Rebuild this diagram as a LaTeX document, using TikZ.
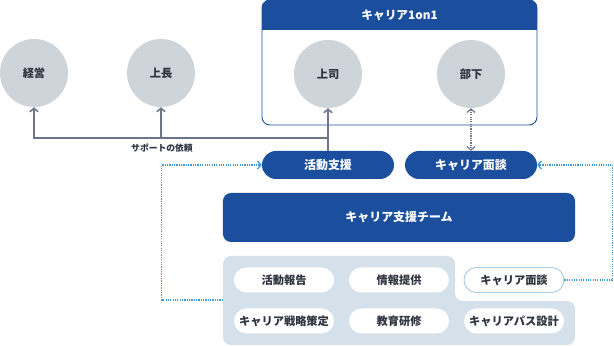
\documentclass[tikz,border=0pt]{standalone}
\usepackage{fontspec}
\setmainfont{Noto Sans CJK JP}
\usetikzlibrary{arrows.meta}

\definecolor{blueD}{HTML}{1B4F9E}
\definecolor{panelL}{HTML}{D4E1EA}
\definecolor{circG}{HTML}{CDD4DA}
\definecolor{lineG}{HTML}{6C7686}
\definecolor{dotB}{HTML}{3D9BDA}
\definecolor{txtD}{HTML}{2F3540}
\definecolor{rimB}{HTML}{A9CBE2}

\begin{document}
\begin{tikzpicture}[x=0.03cm, y=-0.03cm, >={Straight Barb[length=3pt,width=7pt]},
    person/.style={circle, fill=circG, minimum size=2.04cm, inner sep=0pt,
        text=txtD, font=\bfseries\fontsize{9.6}{11}\selectfont},
    pill/.style={rectangle, rounded corners=0.42cm, fill=blueD, text=white,
        minimum width=3.96cm, minimum height=0.84cm, font=\bfseries\fontsize{10.2}{12}\selectfont},
    task/.style={rectangle, rounded corners=0.375cm, fill=white, text=txtD,
        minimum width=3cm, minimum height=0.75cm, font=\bfseries\fontsize{9.6}{11}\selectfont},
    grayarrow/.style={draw=lineG, line width=1.3pt, ->},
    dotarrow/.style={draw=dotB, line width=1pt, densely dotted, ->}]
    \useasboundingbox (0,0) rectangle (614,346);

    % career 1on1 frame
    \draw[blueD, fill=white, line width=0.8pt, rounded corners=0.24cm] (262,0) rectangle (537,125);
    \fill[blueD, rounded corners=0.24cm] (262,0) rectangle (537,30);
    \fill[blueD] (262,20) rectangle (537,30);
    \node[text=white, font=\bfseries\fontsize{10}{12}\selectfont] (title) at (399.5,15) {キャリア1on1};

    \node[person] (keiei) at (34,73) {経営};
    \node[person] (jocho) at (161,73) {上長};
    \node[person] (joshi) at (328,74) {上司};
    \node[person] (buka) at (471,74) {部下};

    \node[pill] (shien) at (328,165) {活動支援};
    \node[pill] (mendan) at (471,165) {キャリア面談};

    \node[rectangle, rounded corners=0.24cm, fill=blueD, text=white, minimum width=10.56cm,
        minimum height=1.47cm, font=\bfseries\fontsize{10.2}{12}\selectfont] (team) at (399,217.5) {キャリア支援チーム};

    % panel with notch
    \fill[panelL, rounded corners=0.24cm] (223,256) -- (455,256) -- (455,301) -- (575,301)
        -- (575,345) -- (223,345) -- cycle;
    \coordinate (panelW) at (223,300);

    \node[task] (hokoku) at (284,280) {活動報告};
    \node[task] (teikyo) at (399,280) {情報提供};
    \node[task, draw=rimB, line width=0.8pt] (mendan2) at (514,280) {キャリア面談};
    \node[task] (senryaku) at (284,321) {キャリア戦略策定};
    \node[task] (kenshu) at (399,321) {教育研修};
    \node[task] (pasu) at (514,321) {キャリアパス設計};

    % support request
    \coordinate (br) at (328,138);
    \coordinate (jb) at (161,138);
    \draw[grayarrow] (shien.north) -- (joshi.south);
    \draw[grayarrow] (br) -| (keiei.south);
    \draw[grayarrow] (jb) -- (jocho.south);
    \node[text=txtD, font=\bfseries\fontsize{7.5}{9}\selectfont] (irai) at (162,148) {サポートの依頼};

    \draw[draw=lineG, line width=1pt, densely dotted, <->] (buka.south) -- (mendan.north);

    \draw[dotarrow] (panelW) -| ([xshift=-3cm]shien.west) -- (shien.west);
    \draw[dotarrow] (mendan2.east) -- ++(1.44cm,0) |- (mendan.east);
\end{tikzpicture}
\end{document}
